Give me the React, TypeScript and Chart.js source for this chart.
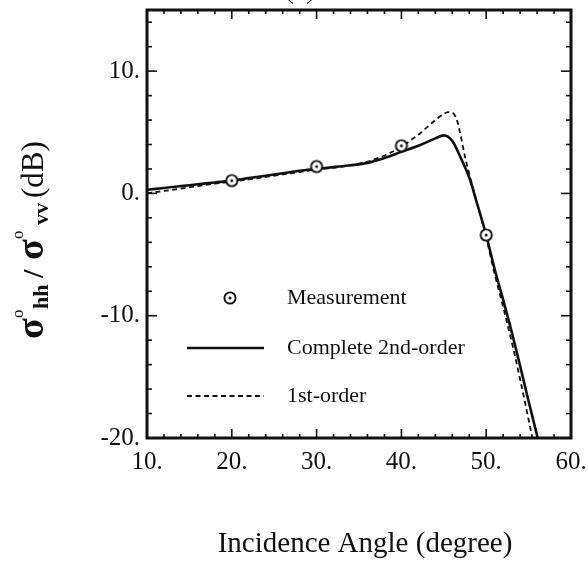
import { useEffect, useRef } from "react";
import { Chart, registerables } from "chart.js";

Chart.register(...registerables);

const FONT = '"Liberation Serif", "Times New Roman", serif';
const INK = "#111111";

// Polarization ratio vs incidence angle
const measuredAngle = [20, 30, 40, 50];
const measuredRatio = [1.05, 2.2, 3.9, -3.4];

const secondOrderAngle = [10, 12, 14, 16, 18, 20, 22, 24, 26, 28, 30, 32, 34, 36, 38, 40, 42, 44, 45, 46, 47, 48, 49, 50, 51, 52, 53, 54, 55, 56, 57];
const secondOrderRatio = [0.3, 0.45, 0.6, 0.75, 0.9, 1.05, 1.25, 1.45, 1.65, 1.85, 2.0, 2.15, 2.3, 2.5, 2.9, 3.4, 3.9, 4.5, 4.75, 4.3, 2.9, 1.3, -1.0, -3.4, -6.2, -8.7, -11.3, -14.1, -17.0, -19.8, -22.7];

const firstOrderAngle = [10, 12, 14, 16, 18, 20, 22, 24, 26, 28, 30, 32, 34, 36, 38, 40, 41, 42, 43, 44, 45, 45.5, 46, 46.5, 47, 47.5, 48, 49, 50, 51, 52, 53, 54, 55, 56];
const firstOrderRatio = [0.0, 0.2, 0.4, 0.6, 0.8, 0.95, 1.15, 1.35, 1.55, 1.75, 1.95, 2.1, 2.3, 2.6, 3.1, 3.8, 4.3, 4.8, 5.4, 6.0, 6.5, 6.65, 6.6, 6.1, 4.7, 3.0, 1.6, -1.0, -3.6, -6.6, -9.3, -12.1, -15.2, -18.5, -21.8];

const seriesLabels = ["Measurement", "Complete 2nd-order", "1st-order"];
const xTickValues = [10, 20, 30, 40, 50, 60];
const yTickValues = [-20, -10, 0, 10];
const xTitle = "Incidence Angle (degree)";
const panelTag = "(c)";

const toPoints = (xs: number[], ys: number[]) => xs.map((x, i) => ({ x, y: ys[i] }));

function makeMarker(): HTMLCanvasElement {
  const c = document.createElement("canvas");
  c.width = 16;
  c.height = 16;
  const g = c.getContext("2d")!;
  g.beginPath();
  g.arc(8, 8, 5.6, 0, Math.PI * 2);
  g.fillStyle = "#ffffff";
  g.fill();
  g.lineWidth = 1.9;
  g.strokeStyle = INK;
  g.stroke();
  g.beginPath();
  g.arc(8, 8, 1.5, 0, Math.PI * 2);
  g.fillStyle = INK;
  g.fill();
  return c;
}

const DASH = [5, 3.5];

// Boxed frame with inward ticks on all sides, legend, and axis titles
const decorations = {
  id: "decorations",
  afterDraw(chart: any) {
    const { ctx, chartArea: a } = chart;
    const xs = chart.scales.x;
    const ys = chart.scales.y;
    const seg = (x1: number, y1: number, x2: number, y2: number) => {
      ctx.beginPath();
      ctx.moveTo(x1, y1);
      ctx.lineTo(x2, y2);
      ctx.stroke();
    };
    ctx.save();
    ctx.strokeStyle = INK;
    ctx.fillStyle = INK;

    // minor/major ticks
    ctx.lineWidth = 1.6;
    for (let v = xs.min; v <= xs.max + 1e-9; v += 2) {
      const px = xs.getPixelForValue(v);
      const len = v % 10 === 0 ? 9 : 4;
      seg(px, a.bottom, px, a.bottom - len);
      seg(px, a.top, px, a.top + len);
    }
    for (let v = ys.min; v < ys.max - 1e-9; v += 2) {
      const py = ys.getPixelForValue(v);
      const len = v % 10 === 0 ? 10 : 5;
      seg(a.left, py, a.left + len, py);
      seg(a.right, py, a.right - len, py);
    }

    // frame
    ctx.lineWidth = 3;
    ctx.strokeRect(a.left, a.top, a.right - a.left, a.bottom - a.top);

    // legend
    const marker = chart.data.datasets[0].pointStyle;
    const lx0 = a.left + 40;
    const lx1 = a.left + 117;
    const tx = a.left + 140;
    const rows = [a.top + 288, a.top + 338, a.top + 386];
    ctx.font = `22px ${FONT}`;
    ctx.textAlign = "left";
    ctx.textBaseline = "middle";
    ctx.drawImage(marker, a.left + 83 - 8, rows[0] - 8);
    ctx.fillText(chart.data.datasets[0].label, tx, rows[0]);
    ctx.lineWidth = 2.6;
    seg(lx0, rows[1], lx1, rows[1]);
    ctx.fillText(chart.data.datasets[1].label, tx, rows[1]);
    ctx.lineWidth = 1.8;
    ctx.setLineDash(DASH);
    seg(lx0, rows[2], lx1, rows[2]);
    ctx.setLineDash([]);
    ctx.fillText(chart.data.datasets[2].label, tx, rows[2]);

    // x axis title
    ctx.font = `29px ${FONT}`;
    ctx.textAlign = "center";
    ctx.textBaseline = "alphabetic";
    ctx.fillText(xTitle, 365, 552);

    // panel tag, cut by the top edge
    ctx.font = `28px ${FONT}`;
    ctx.fillText(panelTag, 300, -2);

    // y axis title with super/subscripts, laid out along the rotated baseline
    type Piece = { t: string; font: string; at: number; dy: number };
    const big = `bold 38px ${FONT}`;
    const sup = `17px ${FONT}`;
    const sub = `bold 22px ${FONT}`;
    const pieces: Piece[] = [
      { t: "σ", font: big, at: 0, dy: 0 },
      { t: "o", font: sup, at: 21, dy: -20 },
      { t: "hh", font: sub, at: 30, dy: 5 },
      { t: "/", font: `bold 30px ${FONT}`, at: 61, dy: 0 },
      { t: "σ", font: big, at: 79, dy: 0 },
      { t: "o", font: sup, at: 100, dy: -20 },
      { t: "vv", font: sub, at: 114, dy: 5 },
      { t: "(dB)", font: `31px ${FONT}`, at: 141, dy: 0 },
    ];
    ctx.translate(43, 339);
    ctx.rotate(-Math.PI / 2);
    ctx.textAlign = "left";
    for (const p of pieces) {
      ctx.font = p.font;
      ctx.fillText(p.t, p.at, p.dy);
    }
    ctx.restore();
  },
};

export default function App() {
  const ref = useRef<HTMLCanvasElement>(null);

  useEffect(() => {
    if (!ref.current) return;
    const marker = makeMarker();
    const chart = new Chart(ref.current, {
      type: "line",
      data: {
        datasets: [
          {
            label: seriesLabels[0],
            data: toPoints(measuredAngle, measuredRatio),
            showLine: false,
            pointStyle: marker as any,
            pointRadius: 6,
            borderColor: INK,
            backgroundColor: "#ffffff",
            order: 0,
          },
          {
            label: seriesLabels[1],
            data: toPoints(secondOrderAngle, secondOrderRatio),
            borderColor: INK,
            borderWidth: 2.6,
            pointRadius: 0,
            cubicInterpolationMode: "monotone",
            fill: false,
            order: 1,
          },
          {
            label: seriesLabels[2],
            data: toPoints(firstOrderAngle, firstOrderRatio),
            borderColor: INK,
            borderWidth: 1.8,
            borderDash: DASH,
            pointRadius: 0,
            cubicInterpolationMode: "monotone",
            fill: false,
            order: 2,
          },
        ],
      },
      options: {
        animation: false,
        responsive: false,
        maintainAspectRatio: false,
        layout: { padding: { top: 10, right: 17, left: 0, bottom: 0 } },
        plugins: {
          legend: { display: false },
          tooltip: { enabled: false },
          title: { display: false },
        },
        scales: {
          x: {
            type: "linear",
            min: 10,
            max: 60,
            afterFit: (s: any) => {
              s.height = 123;
              s.paddingLeft = 0;
              s.paddingRight = 0;
            },
            grid: { display: false, drawTicks: false },
            border: { display: false },
            ticks: {
              stepSize: 10,
              autoSkip: false,
              maxRotation: 0,
              padding: 9,
              color: INK,
              font: { family: FONT, size: 25 },
              callback: (v: any) => (xTickValues.includes(Number(v)) ? `${v}.` : ""),
            },
          },
          y: {
            type: "linear",
            min: -20,
            max: 15,
            afterFit: (s: any) => {
              s.width = 147;
              s.paddingTop = 0;
              s.paddingBottom = 0;
            },
            grid: { display: false, drawTicks: false },
            border: { display: false },
            ticks: {
              stepSize: 10,
              includeBounds: false,
              autoSkip: false,
              padding: 7,
              color: INK,
              font: { family: FONT, size: 25 },
              callback: (v: any) => (yTickValues.includes(Number(v)) ? `${v}.` : ""),
            },
          },
        },
      },
      plugins: [decorations],
    });
    return () => chart.destroy();
  }, []);

  return (
    <div style={{ position: "absolute", left: 0, top: 0, width: 588, height: 561, background: "#fff" }}>
      <canvas ref={ref} width={588} height={561} style={{ display: "block" }} />
    </div>
  );
}
